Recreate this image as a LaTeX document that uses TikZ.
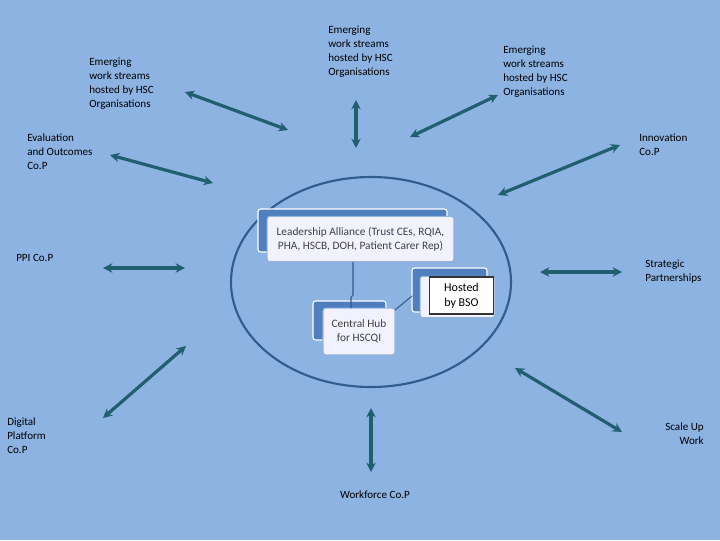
\documentclass[tikz,border=0pt]{standalone}
\usepackage{fontspec}
\setmainfont{Carlito}
\usetikzlibrary{arrows.meta}
\definecolor{bg}{HTML}{8DB3E2}
\definecolor{arr}{HTML}{1F5F6E}
\definecolor{dk}{HTML}{2F5E8E}
\definecolor{back}{HTML}{4F7FBF}
\begin{document}
\begin{tikzpicture}[x=0.75pt,y=-0.75pt,
  lbl/.style={font=\fontsize{8.3}{10.5}\selectfont,align=left,anchor=north west,inner sep=0pt},
  dbl/.style={arr,line width=2.4pt,{Stealth[length=7pt,width=7pt]}-{Stealth[length=7pt,width=7pt]}},
  backbox/.style={fill=back,draw=white,line width=0.8pt,rounded corners=2pt},
  frontbox/.style={fill=white!95!blue,draw=back!60,line width=0.8pt,rounded corners=2pt,font=\fontsize{8.5}{10.5}\selectfont,align=center,text=black!75}]
\fill[bg] (0,0) rectangle (720,540);
\useasboundingbox (0,0) rectangle (720,540);
\draw[dk,line width=1.6pt] (371,282) ellipse [x radius=140,y radius=105];
% boxes
\draw[backbox] (258,209) rectangle (447,252);
\node[frontbox,minimum width=140pt,minimum height=34pt] (la) at (360.5,239) {Leadership Alliance (Trust CEs, RQIA,\\PHA, HSCB, DOH, Patient Carer Rep)};
\draw[backbox] (313,301) rectangle (386,340);
\node[frontbox,minimum width=54pt,minimum height=35pt] (hub) at (359,331.5) {Central Hub\\for HSCQI};
\draw[backbox] (412,268) rectangle (487,312);
\node[fill=white!95!blue,draw=back!60,line width=0.8pt,rounded corners=2pt,minimum width=56pt,minimum height=31pt] (bsob) at (457.5,297) {};
\node[fill=white,draw=black!80,line width=1.4pt,minimum width=48pt,minimum height=28pt,font=\fontsize{9}{11}\selectfont,align=center] (bso) at (461.5,295.5) {Hosted\\by BSO};
\draw[dk,line width=0.8pt] (353,262) -- (353,295) -- (351,297) -- (351,308);
\draw[dk,line width=0.8pt] (395,310) -- (412,296);
% arrows
\coordinate (a1) at (185,92); \coordinate (b1) at (288,130);
\coordinate (a2) at (356,100); \coordinate (b2) at (356,148);
\coordinate (a3) at (410,137); \coordinate (b3) at (498,95);
\coordinate (a4) at (110,155); \coordinate (b4) at (213,183);
\coordinate (a5) at (620,145); \coordinate (b5) at (498,195);
\coordinate (a6) at (103,268); \coordinate (b6) at (185,268);
\coordinate (a7) at (540,272); \coordinate (b7) at (622,272);
\coordinate (a8) at (186,346); \coordinate (b8) at (103,418);
\coordinate (a9) at (515,368); \coordinate (b9) at (622,432);
\coordinate (a10) at (371,408); \coordinate (b10) at (371,472);
\foreach \i in {1,...,10} \draw[dbl] (a\i) -- (b\i);
% labels
\node[lbl] (t1) at (89,58) {Emerging\\work streams\\hosted by HSC\\Organisations};
\node[lbl] (t2) at (328,26) {Emerging\\work streams\\hosted by HSC\\Organisations};
\node[lbl] (t3) at (503,46) {Emerging\\work streams\\hosted by HSC\\Organisations};
\node[lbl] (t4) at (27,134) {Evaluation\\and Outcomes\\Co.P};
\node[lbl] (t5) at (639,134) {Innovation\\Co.P};
\node[lbl] (t6) at (16,254) {PPI Co.P};
\node[lbl] (t7) at (645,260) {Strategic\\Partnerships};
\node[lbl] (t8) at (7,418) {Digital\\Platform\\Co.P};
\node[lbl,align=right,anchor=north east] (t9) at (704,423) {Scale Up\\Work};
\node[lbl,anchor=north] (t10) at (375,491) {Workforce Co.P};
\end{tikzpicture}
\end{document}
